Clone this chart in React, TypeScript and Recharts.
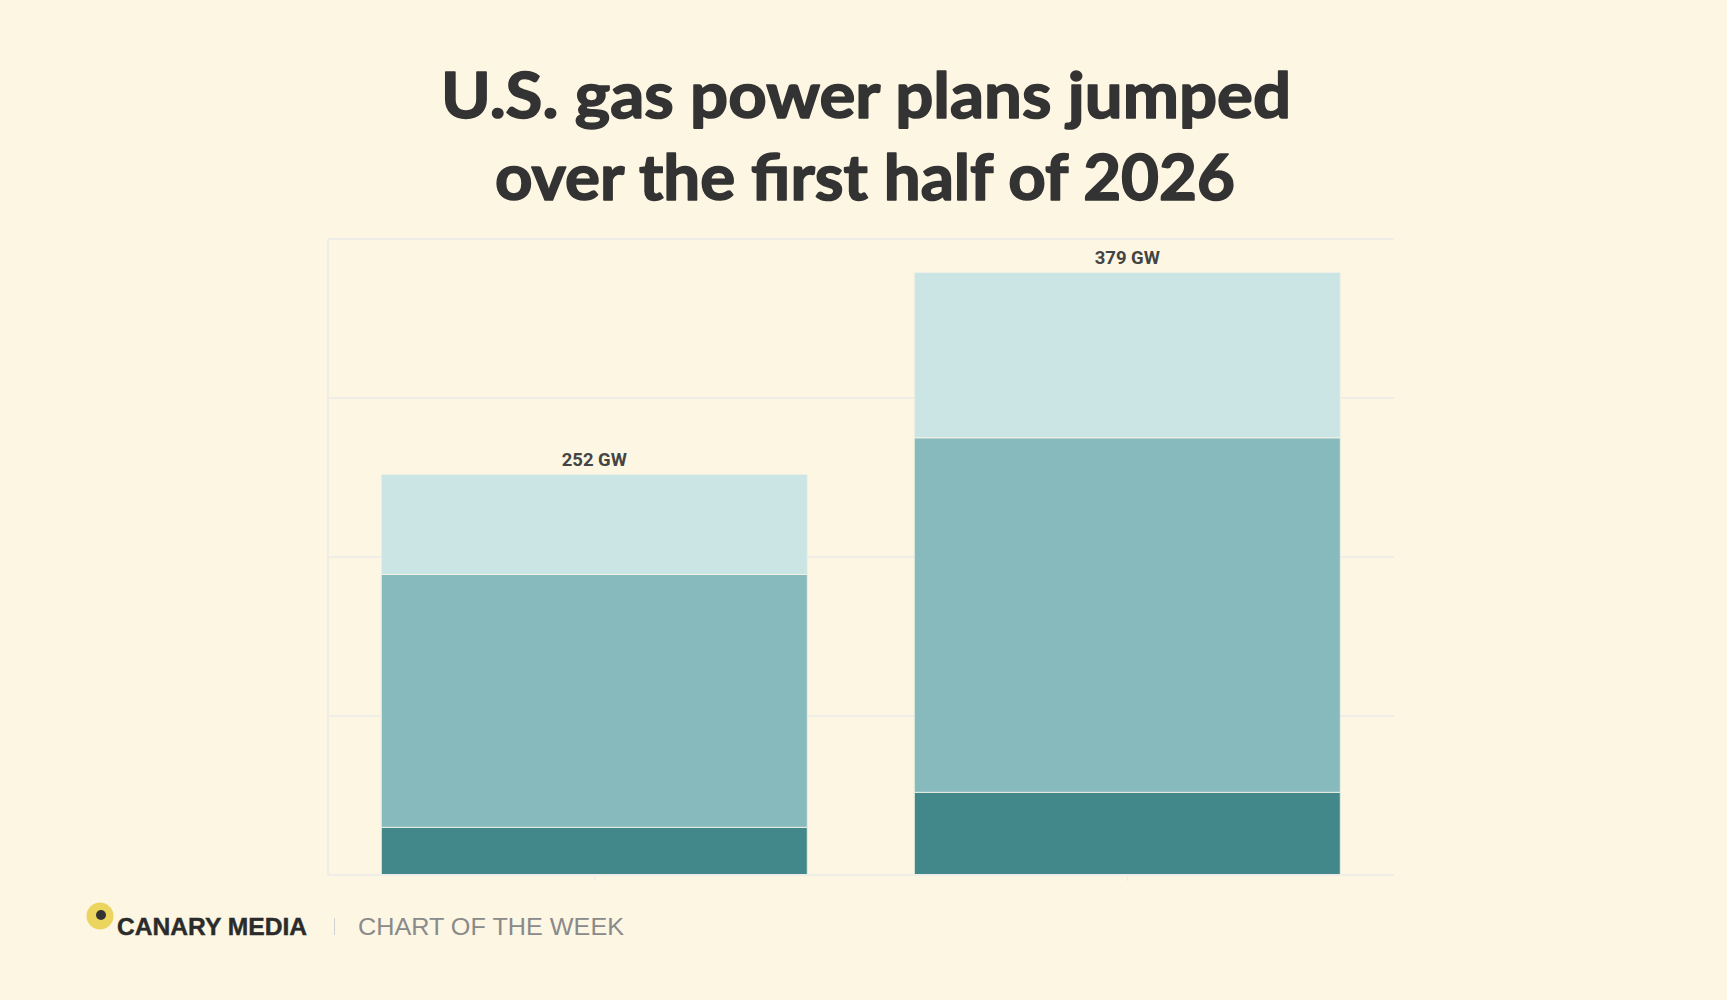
import React from "react";
import { BarChart, Bar, XAxis, YAxis, CartesianGrid, LabelList } from "recharts";

const categories = ["End of 2025", "Mid-2026"];
const operatingSoon = [30, 52];
const inDevelopment = [159, 223];
const earlyStage = [63, 104];
const totals = [252, 379];
const yTicks = [0, 100, 200, 300, 400];

const data = categories.map((c, i) => ({
  name: c,
  dark: operatingSoon[i],
  mid: inDevelopment[i],
  light: earlyStage[i],
}));

const BG = "#fdf6e3";
const GRID = "#efede7";

const TotalLabel = (props: any) => {
  const { x, y, width, index } = props;
  return (
    <text
      x={x + width / 2}
      y={y - 8}
      textAnchor="middle"
      fontFamily="Roboto, Arial, sans-serif"
      fontWeight={700}
      fontSize={18.5}
      fill="#444444"
    >
      {`${totals[index]} GW`}
    </text>
  );
};

const NoTick = () => <g />;

export default function App() {
  return (
    <div
      style={{
        position: "fixed",
        left: 0,
        top: 0,
        width: 1727,
        height: 1000,
        background: BG,
        overflow: "hidden",
      }}
    >
      <div style={{ position: "absolute", left: 0, top: 0 }}>
        <BarChart
          width={1727}
          height={1000}
          data={data}
          margin={{ top: 239, right: 333, bottom: 124, left: 327 }}
          barCategoryGap="10%"
        >
          <CartesianGrid horizontal={true} vertical={false} stroke={GRID} strokeWidth={2} />
          <XAxis
            dataKey="name"
            height={1}
            tick={NoTick}
            tickLine={{ stroke: GRID, strokeWidth: 1.5 }}
            tickSize={6}
            axisLine={{ stroke: GRID, strokeWidth: 2 }}
          />
          <YAxis
            width={1}
            domain={[0, 400]}
            ticks={yTicks}
            interval={0}
            tick={NoTick}
            tickLine={false}
            axisLine={{ stroke: GRID, strokeWidth: 2 }}
          />
          <Bar dataKey="dark" stackId="a" fill="#42878a" stroke="#e9eee2" strokeWidth={1} isAnimationActive={false} />
          <Bar dataKey="mid" stackId="a" fill="#86babd" stroke="#e9eee2" strokeWidth={1} isAnimationActive={false} />
          <Bar dataKey="light" stackId="a" fill="#cbe5e4" stroke="#f2f1e4" strokeWidth={1} isAnimationActive={false}>
            <LabelList dataKey="light" content={TotalLabel} />
          </Bar>
        </BarChart>
      </div>
      <svg
        width={1727}
        height={1000}
        style={{ position: "absolute", left: 0, top: 0, pointerEvents: "none" }}
      >
        <text
          x={866}
          y={118}
          textAnchor="middle"
          fontFamily="Lato, 'Open Sans', sans-serif"
          fontWeight={700}
          fontSize={64}
          fill="#333333"
          stroke="#333333"
          strokeWidth={1.6}
          strokeLinejoin="round"
          textLength={850}
          lengthAdjust="spacingAndGlyphs"
        >
          U.S. gas power plans jumped
        </text>
        <text
          x={865}
          y={200}
          textAnchor="middle"
          fontFamily="Lato, 'Open Sans', sans-serif"
          fontWeight={700}
          fontSize={64}
          fill="#333333"
          stroke="#333333"
          strokeWidth={1.6}
          strokeLinejoin="round"
          textLength={740}
          lengthAdjust="spacingAndGlyphs"
        >
          over the first half of 2026
        </text>
        <circle cx={100} cy={916} r={13.5} fill="#ecd55f" />
        <circle cx={101} cy={915} r={5} fill="#333333" />
        <text
          x={117}
          y={935}
          fontFamily="'Liberation Sans', Arial, sans-serif"
          fontWeight={700}
          fontSize={24}
          fill="#2b2b2b"
          stroke="#2b2b2b"
          strokeWidth={0.4}
          textLength={190}
          lengthAdjust="spacingAndGlyphs"
        >
          CANARY MEDIA
        </text>
        <line x1={334.5} x2={334.5} y1={918} y2={935} stroke="#cdd3d0" strokeWidth={1} />
        <text
          x={358}
          y={935}
          fontFamily="'Liberation Sans', Arial, sans-serif"
          fontWeight={400}
          fontSize={24}
          fill="#8a8a8a"
          textLength={266}
          lengthAdjust="spacingAndGlyphs"
        >
          CHART OF THE WEEK
        </text>
      </svg>
    </div>
  );
}
